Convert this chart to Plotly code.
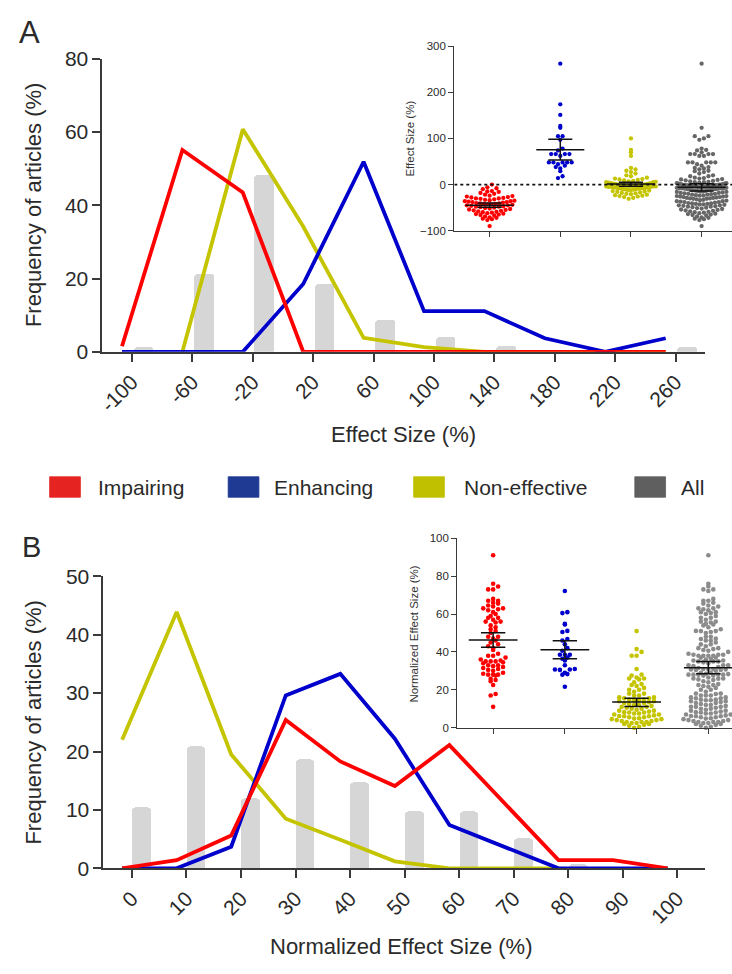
import numpy as np
import plotly.graph_objects as go

W, H = 732, 974

# ---------------- Panel A : histogram lines (% of articles) ----------------
A_bins = [-100, -60, -20, 20, 60, 100, 140, 180, 220, 260]
A_impairing = [1.5, 55.1, 43.5, 0, 0, 0, 0, 0, 0, 0]
A_enhancing = [0, 0, 0, 18.5, 51.9, 11.1, 11.1, 3.7, 0, 3.7]
A_noneff = [None, 0, 60.8, 34.2, 3.8, 1.3, 0, 0, 0, 0]
A_all = [1.3, 21.3, 48.3, 18.6, 8.8, 4.0, 1.5, None, None, 1.3]

# ---------------- Panel A inset : individual effect sizes (%) ----------------
A_dots_impairing = [-90,
    -77, -75, -74, -72, -71, -69, -67, -66, -65, -64, -63, -62, -61, -60, -59,
    -58, -57, -56, -55, -54, -53, -52, -51, -50, -49, -48, -48, -47, -46, -45,
    -45, -44, -43, -43, -42, -42, -41, -41,
    -40, -39, -38, -38, -37, -36, -36, -35, -34, -33, -32, -31, -30, -30, -29,
    -28, -27, -26, -25, -24, -22, -20, -18, -16, -15, -14, -10, -8, -6, 0]
A_dots_enhancing = [262, 174, 151, 127, 123, 105, 105, 97, 78, 74, 66, 66, 66, 66,
                    62, 48, 48, 48, 48, 48, 44, 41, 38, 35, 29, 18, 14]
A_dots_noneff = [-31, -29, -27, -26, -25, -24, -23, -22, -21, -20, -19, -18, -17, -16,
                 -15, -14, -13, -12, -12, -11, -11, -10, -10, -9, -9, -8, -8, -8, -7,
                 -7, -6, -6, -5, -5, -5, -4, -4, -4, -3, -3, -3, -2, -2, -2, -1, -1,
                 -1, -1,
                 0, 0, 1, 1, 2, 2, 3, 3, 4, 5, 5, 6, 7, 8, 9, 10, 11, 12, 13, 15, 18,
                 20, 24, 27, 30, 33, 36,
                 62, 70, 75, 100]
A_dots_all = (A_dots_impairing
              + [262, 123, 105, 105, 97, 78, 74, 66, 66, 66, 66, 62, 48, 48, 48, 48, 48,
                 44, 41, 38, 35, 29, 18, 14]
              + A_dots_noneff)
A_mean = [-44.8, 75.7, 1.4, -6.0]
A_ci_low = [-49.0, 53.0, -3.5, -14.0]
A_ci_high = [-40.0, 98.0, 5.0, 2.0]

# ---------------- Panel B : histogram lines (% of articles) ----------------
B_bins = [0, 10, 20, 30, 40, 50, 60, 70, 80, 90, 100]
B_impairing = [0, 1.4, 5.6, 25.4, 18.3, 14.1, 21.1, 11.3, 1.4, 1.4, 0]
B_enhancing = [0, 0, 3.7, 29.6, 33.3, 22.2, 7.4, 3.7, 0, 0, 0]
B_noneff = [22.0, 43.9, 19.5, 8.5, 4.9, 1.2, 0, 0, 0, None, None]
B_all = [10.4, 20.9, 12.0, 18.6, 14.7, 9.7, 9.7, 5.2, 0.6, None, None]

# ---------------- Panel B inset : normalized effect sizes (%) ----------------
B_dots_impairing = [11, 17, 17.8, 22.5, 24.5,
    25.2, 25.8, 27.5, 28, 28, 28, 28.5, 29, 30, 30.5, 31, 31.5, 32, 32.5, 33, 33, 34, 34.5,
    35, 35, 35, 35.5, 36, 37, 38, 38, 39, 41, 42, 43, 44,
    45, 46, 47, 48, 48, 50, 51, 52, 53, 54,
    55.5, 56, 56, 57, 58, 58, 59, 60, 61, 62, 62.5, 63, 63, 64, 64.5,
    65.5, 66, 67, 67, 68, 73, 73, 74.5, 76, 91]
B_dots_enhancing = [21.6, 28, 28.3, 29, 30.5, 30.7, 30.7, 31, 33, 35.5, 36.4, 37, 38.5,
                    38.5, 38.5, 40.6, 42, 44, 46, 46.8, 50.5, 51.1, 54.5, 54.8, 60.5, 61, 72.2]
B_dots_noneff = [0, 0.5, 1, 1.5, 2, 2, 2.5, 2.5, 3, 3, 3, 3.5, 3.5, 4, 4, 4.5, 4.5, 4.8,
    5, 5.5, 5.5, 6, 6, 6.2, 6.5, 7, 7, 7.5, 7.5, 8, 8, 8.2, 8.5, 9, 9, 9.5, 10, 10,
    10.5, 11, 11, 11.5, 12, 12, 12.5, 13, 13, 13.5, 14, 14, 14.5, 14.5, 14.8, 14.8,
    15.5, 15.5, 16, 16, 17, 17, 18, 18, 19, 20, 20, 21, 22, 22.5, 23, 24,
    25.5, 26, 26, 26.5, 27.5, 28, 31, 38, 38, 40, 41.5, 51]
B_dots_all = B_dots_impairing + B_dots_enhancing + B_dots_noneff
B_mean = [46.3, 41.1, 13.5, 31.6]
B_ci_low = [42.5, 36.4, 11.2, 28.5]
B_ci_high = [50.1, 45.9, 15.5, 34.9]

groups = ["Impairing", "Enhancing", "Non-effective", "All"]

# ---------------- styles ----------------
LINE_RED, LINE_BLUE, LINE_YEL = "#ff0000", "#0000cc", "#c4c400"
BAR_GRAY = "#d6d6d6"
LEG_COLORS = ["#e52421", "#1f3a93", "#c0c000", "#5f5f5f"]
DOT_A = ["#ff0000", "#0000cc", "#c4c400", "#666666"]
DOT_B = ["#ff0000", "#0000cc", "#c4c400", "#8c8c8c"]
TXT = "#2a2a2a"
AX = "#3a3a3a"
FONT = "Arial, Liberation Sans, sans-serif"

A_LINE_SHIFT, A_BAR_SHIFT, A_BAR_W = -6.6, 7.7, 13.0
B_LINE_SHIFT, B_BAR_SHIFT, B_BAR_W = -1.8, 1.8, 3.4


def px_x(p):
    return p / W


def px_y(p):
    return 1 - p / H


def swarm(vals, px_per_unit, px_per_cat, row_px, step_px, max_half_px):
    v = np.asarray(vals, float)
    ypx = v * px_per_unit
    bins = np.floor((ypx - ypx.min()) / row_px).astype(int)
    off = np.zeros(len(v))
    for b in np.unique(bins):
        idx = np.where(bins == b)[0]
        idx = idx[np.argsort(v[idx], kind="stable")]
        k = len(idx)
        s = step_px
        if k > 1 and (k - 1) * s / 2 > max_half_px:
            s = 2 * max_half_px / (k - 1)
        slots = (np.arange(k) - (k - 1) / 2) * s
        order = np.argsort(np.abs(slots) + 1e-6 * np.arange(k), kind="stable")
        off[idx] = slots[order]
    return off / px_per_cat


fig = go.Figure()

# ---------- Panel A main ----------
fig.add_trace(go.Bar(x=[b + A_BAR_SHIFT for b in A_bins], y=A_all, width=A_BAR_W,
                     marker=dict(color=BAR_GRAY, cornerradius=4, line=dict(width=0)),
                     xaxis="x", yaxis="y", showlegend=False))
for ys, col in [(A_noneff, LINE_YEL), (A_enhancing, LINE_BLUE), (A_impairing, LINE_RED)]:
    fig.add_trace(go.Scatter(x=[b + A_LINE_SHIFT for b in A_bins], y=ys, mode="lines",
                             line=dict(color=col, width=3.8), cliponaxis=False,
                             connectgaps=False, xaxis="x", yaxis="y", showlegend=False))

# ---------- Panel B main ----------
fig.add_trace(go.Bar(x=[b + B_BAR_SHIFT for b in B_bins], y=B_all, width=B_BAR_W,
                     marker=dict(color=BAR_GRAY, cornerradius=4, line=dict(width=0)),
                     xaxis="x3", yaxis="y3", showlegend=False))
for ys, col in [(B_noneff, LINE_YEL), (B_enhancing, LINE_BLUE), (B_impairing, LINE_RED)]:
    fig.add_trace(go.Scatter(x=[b + B_LINE_SHIFT for b in B_bins], y=ys, mode="lines",
                             line=dict(color=col, width=3.8), cliponaxis=False,
                             xaxis="x3", yaxis="y3", showlegend=False))


def add_inset(dot_sets, colors, means, lo, hi, xa, ya, ppu, ppc, row_px, step_px, size):
    for g, (vals, col) in enumerate(zip(dot_sets, colors)):
        offs = swarm(vals, ppu, ppc, row_px, step_px, 25)
        fig.add_trace(go.Scatter(x=g + offs, y=vals, mode="markers",
                                 marker=dict(color=col, size=size, line=dict(width=0)),
                                 cliponaxis=False, xaxis=xa, yaxis=ya, showlegend=False))
    for g in range(4):
        xs = [g - 0.34, g + 0.34, None, g - 0.17, g + 0.17, None,
              g - 0.17, g + 0.17, None, g, g]
        ys = [means[g], means[g], None, hi[g], hi[g], None, lo[g], lo[g], None, lo[g], hi[g]]
        fig.add_trace(go.Scatter(x=xs, y=ys, mode="lines", line=dict(color="#111", width=1.5),
                                 cliponaxis=False, xaxis=xa, yaxis=ya, showlegend=False))


add_inset([A_dots_impairing, A_dots_enhancing, A_dots_noneff, A_dots_all], DOT_A,
          A_mean, A_ci_low, A_ci_high, "x2", "y2", 189 / 400, 71.3, 4.4, 4.6, 4.3)
add_inset([B_dots_impairing, B_dots_enhancing, B_dots_noneff, B_dots_all], DOT_B,
          B_mean, B_ci_low, B_ci_high, "x4", "y4", 194 / 100, 72.3, 4.6, 5.0, 4.6)

main_ax = dict(showgrid=False, zeroline=False, showline=True, linecolor=AX, linewidth=1.5,
               ticks="outside", ticklen=8, tickwidth=1.5, tickcolor=AX,
               tickfont=dict(size=21, color=TXT, family=FONT))
inset_ax = dict(showgrid=False, zeroline=False, showline=True, linecolor=AX, linewidth=1.3,
                ticks="outside", ticklen=5, tickwidth=1.3, tickcolor=AX,
                tickfont=dict(size=11.5, color=TXT, family=FONT))

fig.update_layout(
    width=W, height=H, margin=dict(l=0, r=0, t=0, b=0),
    paper_bgcolor="white", plot_bgcolor="rgba(0,0,0,0)",
    font=dict(family=FONT, color=TXT), showlegend=False,
    xaxis=dict(main_ax, domain=[px_x(97), px_x(705)], range=[-119.7, 279.6], anchor="y",
               tickvals=A_bins, ticktext=[str(b) for b in A_bins], tickangle=-45),
    yaxis=dict(main_ax, domain=[px_y(348), px_y(48)], range=[0, 80], anchor="x",
               tickvals=[0, 20, 40, 60, 80]),
    xaxis2=dict(inset_ax, domain=[px_x(452), 1.0], range=[-0.5, 3.43], anchor="y2",
                tickvals=[0, 1, 2, 3], showticklabels=False),
    yaxis2=dict(inset_ax, domain=[px_y(224), px_y(35)], range=[-100, 300], anchor="x2",
                tickvals=[-100, 0, 100, 200, 300]),
    xaxis3=dict(main_ax, domain=[px_x(98), px_x(705)], range=[-5.27, 105.1], anchor="y3",
                tickvals=B_bins, ticktext=[str(b) for b in B_bins], tickangle=-45),
    yaxis3=dict(main_ax, domain=[px_y(877), px_y(578)], range=[0, 50], anchor="x3",
                tickvals=[0, 10, 20, 30, 40, 50]),
    xaxis4=dict(inset_ax, domain=[px_x(455), 1.0], range=[-0.5, 3.33], anchor="y4",
                tickvals=[0, 1, 2, 3], showticklabels=False),
    yaxis4=dict(inset_ax, domain=[px_y(733), px_y(539)], range=[0, 100], anchor="x4",
                tickvals=[0, 20, 40, 60, 80, 100]),
    bargap=0,
)

# dotted zero line on inset A
fig.add_shape(type="line", xref="x2", yref="y2", x0=-0.5, x1=3.43, y0=0, y1=0,
              line=dict(color="#111", width=1.8, dash="dot"))

ann = []


def text(s, xp, yp, size, angle=0, anchor="center", color=TXT):
    ann.append(dict(text=s, x=px_x(xp), y=px_y(yp), xref="paper", yref="paper",
                    showarrow=False, textangle=angle, xanchor=anchor, yanchor="middle",
                    font=dict(size=size, color=color, family=FONT)))


text("A", 24, 21, 31)
text("B", 26, 548, 29)
text("Frequency of articles (%)", 28, 197, 22, -90)
text("Effect Size (%)", 401, 433, 22)
text("Frequency of articles (%)", 28, 727, 22, -90)
text("Normalized Effect Size (%)", 398, 957, 22)
text("Effect Size (%)", 407, 130, 11.5, -90, color="#333")
text("Normalized Effect Size (%)", 411, 637, 11.5, -90, color="#333")

# legend
leg_sq = [44, 224, 411, 634]
leg_tx = [91, 268, 460, 679]
for name, col, sx, tx in zip(groups, LEG_COLORS, leg_sq, leg_tx):
    fig.add_shape(type="rect", xref="paper", yref="paper",
                  x0=px_x(sx), x1=px_x(sx + 31), y0=px_y(497), y1=px_y(476),
                  fillcolor=col, line=dict(width=0.8, color=col))
    text(name, tx, 487, 21, anchor="left")

fig.update_layout(annotations=ann)
fig.write_html("out.html", config={"displayModeBar": False},
               post_script="document.body.style.margin='0px';"
                           "document.body.style.overflow='hidden';")
